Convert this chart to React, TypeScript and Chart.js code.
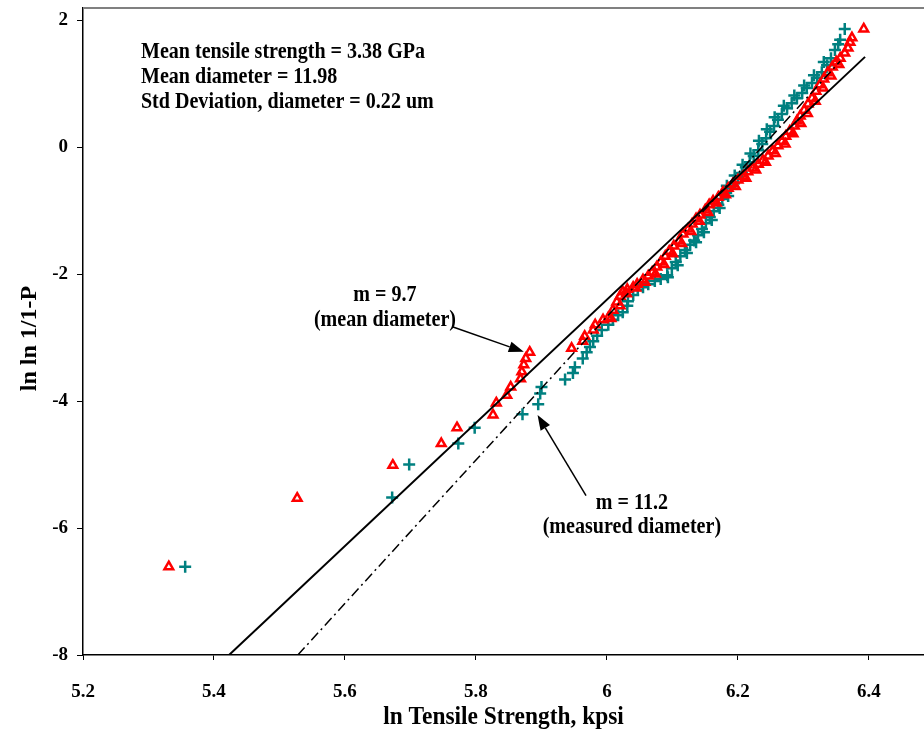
import { useEffect, useRef } from "react";
import { Chart, registerables } from "chart.js";

Chart.register(...registerables);

// ln(tensile strength, kpsi) and ln ln 1/(1-P)
// Series 1: strengths normalised with the mean diameter (red triangles)
const meanDiaX = [
  5.331, 5.527, 5.673, 5.747, 5.771, 5.826, 5.831, 5.847, 5.853, 5.868,
  5.870, 5.873, 5.876, 5.882, 5.946, 5.963, 5.966, 5.979, 5.982, 5.994,
  6.002, 6.009, 6.015, 6.020, 6.024, 6.031, 6.040, 6.046, 6.055, 6.063,
  6.069, 6.076, 6.082, 6.089, 6.095, 6.102, 6.110, 6.116, 6.124, 6.130,
  6.136, 6.142, 6.150, 6.156, 6.162, 6.170, 6.177, 6.185, 6.192, 6.200,
  6.208, 6.215, 6.223, 6.231, 6.238, 6.246, 6.253, 6.261, 6.267, 6.273,
  6.279, 6.286, 6.290, 6.295, 6.301, 6.307, 6.313, 6.319, 6.325, 6.331,
  6.337, 6.344, 6.350, 6.356, 6.363, 6.368, 6.371, 6.374, 6.392,
  // right side of the dense band
  6.006, 6.020, 6.030, 6.044, 6.058, 6.074, 6.087, 6.100, 6.114, 6.128,
  6.141, 6.154, 6.167, 6.181, 6.196, 6.212, 6.227, 6.242, 6.257, 6.272,
  6.284, 6.296, 6.306, 6.318, 6.330, 6.342, 6.354,
];
const meanDiaY = [
  -6.61, -5.53, -5.01, -4.67, -4.42, -4.22, -4.03, -3.91, -3.78, -3.65,
  -3.54, -3.43, -3.33, -3.23, -3.17, -3.06, -2.98, -2.88, -2.80, -2.72,
  -2.69, -2.57, -2.44, -2.35, -2.28, -2.24, -2.21, -2.16, -2.09, -2.03,
  -1.97, -1.89, -1.81, -1.72, -1.64, -1.56, -1.48, -1.37, -1.29, -1.21,
  -1.13, -1.07, -0.99, -0.91, -0.85, -0.79, -0.71, -0.65, -0.58, -0.52,
  -0.46, -0.39, -0.33, -0.27, -0.21, -0.14, -0.06, 0.02, 0.09, 0.17,
  0.25, 0.33, 0.41, 0.49, 0.58, 0.68, 0.77, 0.88, 0.98, 1.07,
  1.17, 1.26, 1.34, 1.40, 1.48, 1.56, 1.65, 1.72, 1.86,
  -2.70, -2.50, -2.31, -2.22, -2.13, -2.00, -1.85, -1.68, -1.52, -1.33,
  -1.17, -1.03, -0.88, -0.75, -0.62, -0.49, -0.36, -0.24, -0.10, 0.05,
  0.21, 0.37, 0.53, 0.72, 0.93, 1.12, 1.30,
];

// Series 2: strengths with the measured diameter (teal crosses)
const measDiaX = [
  5.356, 5.672, 5.698, 5.773, 5.798, 5.871, 5.895, 5.898, 5.900, 5.936,
  5.948, 5.951, 5.963, 5.969, 5.974, 5.979, 5.985, 5.992, 6.002, 6.009,
  6.017, 6.024, 6.031, 6.032, 6.040, 6.047, 6.055, 6.063, 6.073, 6.082,
  6.092, 6.099, 6.105, 6.112, 6.119, 6.127, 6.133, 6.139, 6.145, 6.151,
  6.157, 6.163, 6.170, 6.176, 6.182, 6.188, 6.194, 6.200, 6.206, 6.212,
  6.218, 6.224, 6.231, 6.237, 6.243, 6.249, 6.255, 6.261, 6.267, 6.275,
  6.282, 6.290, 6.298, 6.305, 6.313, 6.321, 6.328, 6.336, 6.342, 6.348,
  6.353, 6.356, 6.363,
  // spread of the dense band
  6.093, 6.108, 6.122, 6.136, 6.148, 6.160, 6.172, 6.185,
  6.183, 6.195, 6.207, 6.219, 6.232, 6.244, 6.256, 6.270, 6.286, 6.301,
  6.316, 6.331,
];
const measDiaY = [
  -6.61, -5.52, -5.00, -4.67, -4.42, -4.21, -4.05, -3.88, -3.78, -3.66,
  -3.56, -3.47, -3.33, -3.23, -3.15, -3.06, -2.97, -2.88, -2.80, -2.72,
  -2.65, -2.60, -2.50, -2.43, -2.33, -2.25, -2.21, -2.16, -2.11, -2.08,
  -2.02, -1.91, -1.81, -1.72, -1.62, -1.54, -1.47, -1.39, -1.29, -1.20,
  -1.10, -1.01, -0.91, -0.82, -0.72, -0.65, -0.57, -0.49, -0.41, -0.32,
  -0.24, -0.14, -0.05, 0.05, 0.14, 0.24, 0.33, 0.43, 0.52, 0.61,
  0.69, 0.77, 0.85, 0.93, 1.01, 1.09, 1.18, 1.29, 1.40, 1.53,
  1.62, 1.69, 1.86,
  -2.05, -1.86, -1.67, -1.50, -1.34, -1.15, -0.96, -0.77,
  -0.61, -0.45, -0.28, -0.10, 0.10, 0.28, 0.47, 0.65, 0.81, 0.97,
  1.13, 1.34,
];

// Weibull fit lines (end points)
const fitMeanX = [5.423, 6.394]; // m = 9.7
const fitMeanY = [-8, 1.42];
const fitMeasX = [5.528, 6.356]; // m = 11.2
const fitMeasY = [-8, 1.35];

// Axes
const xMin = 5.2;
const xMax = 6.484;
const xStep = 0.2;
const yMin = -8;
const yMax = 2.19;
const yStep = 2;
const xTitle = "ln Tensile Strength, kpsi";
const yTitle = "ln ln 1/1-P";

// Text annotations
const statsLines = [
  "Mean tensile strength = 3.38 GPa",
  "Mean diameter = 11.98",
  "Std Deviation, diameter = 0.22 um",
];
const statsAnchorX = 5.2885;
const statsAnchorY = [1.40, 1.008, 0.614];
const labelMean = ["m = 9.7", "(mean diameter)"];
const labelMeanAt = { x: 5.661, y: [-2.33, -2.72] };
const labelMeas = ["m = 11.2", "(measured diameter)"];
const labelMeasAt = { x: 6.038, y: [-5.61, -5.98] };
const arrowMean = { from: [5.765, -2.835], to: [5.873, -3.225] };
const arrowMeas = { from: [5.968, -5.49], to: [5.894, -4.22] };

const SERIF = "'Liberation Serif', 'Times New Roman', Times, serif";

function drawText(
  ctx: CanvasRenderingContext2D,
  text: string,
  px: number,
  py: number,
  align: CanvasTextAlign,
  baseline: CanvasTextBaseline,
  size: number,
  sx: number,
  rot = 0
) {
  ctx.save();
  ctx.translate(px, py);
  if (rot) ctx.rotate(rot);
  ctx.scale(sx, 1);
  ctx.font = `bold ${size}px ${SERIF}`;
  ctx.fillStyle = "#000";
  ctx.textAlign = align;
  ctx.textBaseline = baseline;
  ctx.fillText(text, 0, 0);
  ctx.restore();
}

function drawArrow(ctx: CanvasRenderingContext2D, x1: number, y1: number, x2: number, y2: number) {
  const ang = Math.atan2(y2 - y1, x2 - x1);
  const len = 15;
  const hw = 5.5;
  const bx = x2 - Math.cos(ang) * len;
  const by = y2 - Math.sin(ang) * len;
  ctx.save();
  ctx.strokeStyle = "#000";
  ctx.fillStyle = "#000";
  ctx.lineWidth = 1.5;
  ctx.beginPath();
  ctx.moveTo(x1, y1);
  ctx.lineTo(bx, by);
  ctx.stroke();
  ctx.beginPath();
  ctx.moveTo(x2, y2);
  ctx.lineTo(bx - Math.sin(ang) * hw, by + Math.cos(ang) * hw);
  ctx.lineTo(bx + Math.sin(ang) * hw, by - Math.cos(ang) * hw);
  ctx.closePath();
  ctx.fill();
  ctx.restore();
}

const annotationPlugin = {
  id: "weibullAnnotations",
  afterDraw(chart: any) {
    const { ctx, chartArea, scales } = chart;
    const xs = scales.x;
    const ys = scales.y;
    const X = (v: number) => xs.getPixelForValue(v);
    const Y = (v: number) => ys.getPixelForValue(v);
    ctx.save();
    // top frame line
    ctx.strokeStyle = "#808080";
    ctx.lineWidth = 2;
    ctx.beginPath();
    ctx.moveTo(chartArea.left, chartArea.top);
    ctx.lineTo(chartArea.right, chartArea.top);
    ctx.stroke();
    ctx.restore();

    statsLines.forEach((t, i) =>
      drawText(ctx, t, X(statsAnchorX), Y(statsAnchorY[i]), "left", "alphabetic", 22.8, 0.88)
    );
    labelMean.forEach((t, i) =>
      drawText(ctx, t, X(labelMeanAt.x), Y(labelMeanAt.y[i]), "center", "middle", 22.8, 0.88)
    );
    labelMeas.forEach((t, i) =>
      drawText(ctx, t, X(labelMeasAt.x), Y(labelMeasAt.y[i]), "center", "middle", 22.8, 0.88)
    );
    drawArrow(ctx, X(arrowMean.from[0]), Y(arrowMean.from[1]), X(arrowMean.to[0]), Y(arrowMean.to[1]));
    drawArrow(ctx, X(arrowMeas.from[0]), Y(arrowMeas.from[1]), X(arrowMeas.to[0]), Y(arrowMeas.to[1]));

    // axis titles
    drawText(ctx, xTitle, 503.5, chartArea.bottom + 62, "center", "middle", 26, 0.9);
    drawText(ctx, yTitle, 30, (chartArea.top + chartArea.bottom) / 2 + 7, "center", "middle", 24, 1, -Math.PI / 2);
  },
};

const fmtTick = (v: number | string) => {
  const n = Number(v);
  return Number(n.toFixed(1)).toString();
};

export default function App() {
  const ref = useRef<HTMLCanvasElement | null>(null);

  useEffect(() => {
    if (!ref.current) return;
    const tickFont = { family: SERIF, size: 19, weight: "bold" as const };
    const chart = new Chart(ref.current, {
      type: "scatter",
      data: {
        datasets: [
          {
            label: "m = 9.7 (mean diameter)",
            data: fitMeanX.map((x, i) => ({ x, y: fitMeanY[i] })),
            showLine: true,
            borderColor: "#000",
            borderWidth: 2,
            pointRadius: 0,
            order: 0,
          },
          {
            label: "m = 11.2 (measured diameter)",
            data: fitMeasX.map((x, i) => ({ x, y: fitMeasY[i] })),
            showLine: true,
            borderColor: "#000",
            borderWidth: 1.5,
            borderDash: [10, 4, 2, 4],
            pointRadius: 0,
            order: 1,
          },
          {
            label: "Mean diameter",
            data: meanDiaX.map((x, i) => ({ x, y: meanDiaY[i] })),
            pointStyle: "triangle",
            pointRadius: 5,
            borderColor: "#FF0000",
            backgroundColor: "rgba(0,0,0,0)",
            borderWidth: 2.5,
            order: 2,
          },
          {
            label: "Measured diameter",
            data: measDiaX.map((x, i) => ({ x, y: measDiaY[i] })),
            pointStyle: "cross",
            pointRadius: 6,
            borderColor: "#008080",
            backgroundColor: "#008080",
            borderWidth: 2.5,
            order: 3,
          },
        ],
      },
      options: {
        responsive: false,
        animation: false,
        events: [],
        layout: { autoPadding: false, padding: { top: 8, left: 0, right: 0, bottom: 0 } },
        plugins: { legend: { display: false }, tooltip: { enabled: false } },
        scales: {
          x: {
            type: "linear",
            min: xMin,
            max: xMax,
            afterFit: (s: any) => {
              s.height = 86;
              s.paddingLeft = 0;
              s.paddingRight = 0;
            },
            ticks: {
              stepSize: xStep,
              includeBounds: false,
              callback: fmtTick,
              font: tickFont,
              color: "#000",
              padding: 21,
              maxRotation: 0,
            },
            grid: { drawOnChartArea: false, drawTicks: true, tickLength: 5, color: "#000", lineWidth: 1 },
            border: { display: true, color: "#000", width: 1.5 },
          },
          y: {
            type: "linear",
            min: yMin,
            max: yMax,
            afterFit: (s: any) => {
              s.width = 83;
              s.paddingTop = 0;
              s.paddingBottom = 0;
            },
            ticks: {
              stepSize: yStep,
              includeBounds: false,
              callback: fmtTick,
              font: tickFont,
              color: "#000",
              padding: 9,
            },
            grid: { drawOnChartArea: false, drawTicks: true, tickLength: 6, color: "#000", lineWidth: 1 },
            border: { display: true, color: "#000", width: 1.5 },
          },
        },
      },
      plugins: [annotationPlugin],
    });
    return () => chart.destroy();
  }, []);

  return (
    <div style={{ position: "absolute", left: 0, top: 0, width: 924, height: 741, background: "#fff" }}>
      <canvas ref={ref} width={924} height={741} style={{ display: "block" }} />
    </div>
  );
}
